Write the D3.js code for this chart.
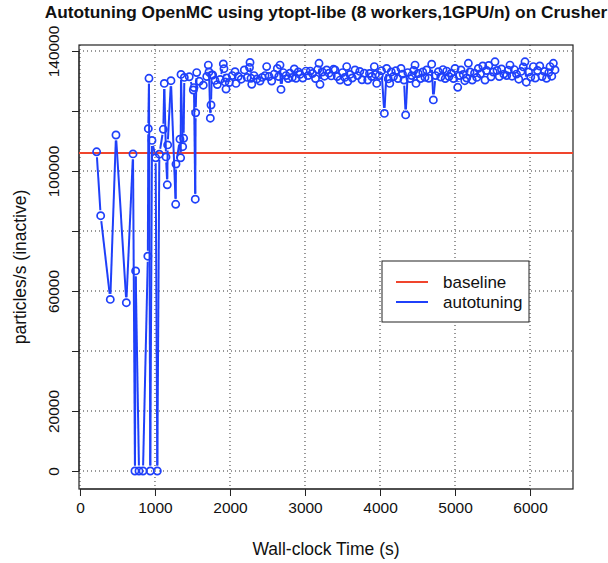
<!DOCTYPE html>
<html>
<head>
<meta charset="utf-8">
<script src="https://cdn.jsdelivr.net/npm/d3@7"></script>
<style>
  body { margin: 0; background: #fff; }
  text { font-family: "Liberation Sans", Arial, Helvetica, sans-serif; }
</style>
</head>
<body>
<div id="chart"></div>
<script>
const width = 608;
const height = 563;

// wall-clock time (s) of each evaluation
const times = [
  222, 276, 404, 480, 618, 707, 733, 742, 787, 840,
  905, 911, 920, 937, 960, 1009, 1031, 1058, 1111, 1124,
  1147, 1164, 1169, 1213, 1276, 1280, 1333, 1342, 1347, 1369,
  1382, 1391, 1457, 1511, 1520, 1537, 1542, 1556, 1591, 1644,
  1690, 1711, 1720, 1738, 1747, 1756, 1769, 1800, 1831, 1870,
  1911, 1920, 1933, 1947, 1956, 1990, 2030, 2067, 2080, 2110,
  2150, 2191, 2230, 2260, 2267, 2280, 2290, 2320, 2360, 2400,
  2430, 2467, 2489, 2520, 2556, 2590, 2631, 2650, 2667, 2680,
  2710, 2747, 2775, 2800, 2830, 2857, 2880, 2910, 2933, 2970,
  3013, 3040, 3070, 3100, 3140, 3170, 3187, 3200, 3230, 3260,
  3289, 3320, 3350, 3380, 3400, 3430, 3467, 3500, 3530, 3556,
  3570, 3600, 3630, 3667, 3700, 3730, 3760, 3790, 3836, 3860,
  3890, 3924, 3940, 3956, 3990, 4020, 4058, 4089, 4110, 4130,
  4150, 4180, 4210, 4240, 4280, 4300, 4320, 4342, 4370, 4400,
  4422, 4450, 4467, 4480, 4510, 4540, 4570, 4600, 4622, 4650,
  4689, 4711, 4740, 4778, 4810, 4840, 4870, 4889, 4920, 4950,
  4980, 5000, 5036, 5060, 5080, 5110, 5130, 5156, 5178, 5200,
  5230, 5260, 5290, 5311, 5340, 5370, 5400, 5420, 5450, 5480,
  5510, 5533, 5560, 5590, 5620, 5650, 5689, 5710, 5733, 5760,
  5790, 5820, 5850, 5880, 5910, 5933, 5950, 5980, 6010, 6044,
  6070, 6100, 6130, 6160, 6190, 6220, 6250, 6267, 6290, 6311,
  6333
];

// particles/s (inactive) for each evaluation
const values = [
  106400, 85100, 57200, 112000, 56100, 105700, 0, 66700, 0, 0,
  71600, 114100, 130900, 0, 110200, 104400, 0, 105600, 113900, 129200,
  104700, 95400, 108700, 130100, 88900, 102300, 110600, 104400, 132200, 108100,
  110900, 131200, 131400, 127000, 127800, 90600, 119400, 132800, 129900, 128600,
  131500, 135300, 133000, 117600, 122000, 132000, 132000, 130200, 128800, 130500,
  135700, 134100, 129700, 127300, 131000, 129500, 131800, 133100, 129200, 131500,
  130600, 133700, 131200, 134500, 136200, 130900, 128900, 131800, 130700, 130000,
  131200, 131800, 134800, 131500, 130000, 132300, 134200, 131500, 135300, 127200,
  132800, 131800, 130800, 132600, 131200, 134000, 130900, 133000, 132200, 131000,
  133300, 131800, 133300, 132500, 130800, 133800, 135900, 128900, 133000, 131600,
  133700, 132600, 131700, 133900, 133700, 131500, 130300, 132800, 131200, 134800,
  129800, 132200, 131000, 133700, 131800, 133200, 130400, 132600, 130300, 132500,
  131500, 134800, 132200, 129200, 131800, 133400, 119200, 134200, 130700, 129200,
  133000, 131500, 133400, 130800, 134200, 132300, 130300, 118700, 132800, 130800,
  131800, 133500, 135300, 129200, 132500, 130800, 133000, 131200, 133700, 130900,
  135600, 123700, 131800, 133100, 131300, 133800, 130800, 133300, 131500, 132600,
  130800, 134200, 127900, 131800, 133700, 132200, 130100, 131000, 135900, 133000,
  130300, 132600, 131200, 134200, 132400, 135000, 130300, 133500, 135200, 131400,
  133000, 136400, 133500, 131500, 134000, 132300, 131800, 133600, 135300, 131600,
  133800, 132300, 130600, 133200, 134700, 136400, 129600, 133000, 131300, 134800,
  131000, 133500, 135000, 131500, 133200, 130900, 132800, 134800, 131600, 135900,
  133700
];

const baselineValue = 106000;

const xTicks = [0, 1000, 2000, 3000, 4000, 5000, 6000];
const yTicks = [0, 20000, 40000, 60000, 80000, 100000, 120000, 140000];
const yLabelled = [0, 20000, 60000, 100000, 140000];

const legendNames = ["baseline", "autotuning"];

const red = "#f0452d";
const blue = "#1f40fa";

const plot = { left: 79, right: 573, top: 45, bottom: 489 };

const svg = d3.select("#chart").append("svg")
    .attr("width", width)
    .attr("height", height);

const xScale = d3.scaleLinear()
    .domain([-13, 6573])
    .range([plot.left, plot.right]);

const yScale = d3.scaleLinear()
    .domain([-6000, 142000])
    .range([plot.bottom, plot.top]);

// grid
svg.append("g")
    .selectAll("line.vgrid")
    .data(xTicks)
    .join("line")
    .attr("class", "vgrid")
    .attr("x1", d => xScale(d))
    .attr("x2", d => xScale(d))
    .attr("y1", plot.top)
    .attr("y2", plot.bottom)
    .attr("stroke", "#333")
    .attr("stroke-width", 1)
    .attr("stroke-dasharray", "1,3");

svg.append("g")
    .selectAll("line.hgrid")
    .data(yTicks)
    .join("line")
    .attr("class", "hgrid")
    .attr("x1", plot.left)
    .attr("x2", plot.right)
    .attr("y1", d => yScale(d))
    .attr("y2", d => yScale(d))
    .attr("stroke", "#333")
    .attr("stroke-width", 1)
    .attr("stroke-dasharray", "1,3");

// axes
const xAxis = d3.axisBottom(xScale)
    .tickValues(xTicks)
    .tickSize(7)
    .tickPadding(6)
    .tickFormat(d => d);

const yAxis = d3.axisLeft(yScale)
    .tickValues(yTicks)
    .tickSize(7)
    .tickFormat(d => yLabelled.includes(d) ? d : "");

const gx = svg.append("g")
    .attr("transform", `translate(0,${plot.bottom})`)
    .call(xAxis);
gx.select(".domain")
    .attr("d", `M${xScale(0)},0H${xScale(6000)}`)
    .attr("stroke", "#222");
gx.selectAll(".tick line").attr("stroke", "#222");
gx.selectAll(".tick text")
    .attr("font-size", 15.5)
    .attr("fill", "#111")
    .attr("font-family", "Liberation Sans, Arial, sans-serif");

const gy = svg.append("g")
    .attr("transform", `translate(${plot.left},0)`)
    .call(yAxis);
gy.select(".domain")
    .attr("d", `M0,${yScale(0)}V${yScale(140000)}`)
    .attr("stroke", "#222");
gy.selectAll(".tick line").attr("stroke", "#222");
gy.selectAll(".tick text")
    .attr("font-size", 15.5)
    .attr("fill", "#111")
    .attr("font-family", "Liberation Sans, Arial, sans-serif")
    .attr("text-anchor", "middle")
    .attr("x", 0)
    .attr("dy", 0)
    .attr("transform", "translate(-20,0) rotate(-90)");

// plot box
svg.append("rect")
    .attr("x", plot.left)
    .attr("y", plot.top)
    .attr("width", plot.right - plot.left)
    .attr("height", plot.bottom - plot.top)
    .attr("fill", "none")
    .attr("stroke", "#222")
    .attr("stroke-width", 1.2);

// baseline
svg.append("line")
    .attr("x1", plot.left)
    .attr("x2", plot.right)
    .attr("y1", yScale(baselineValue))
    .attr("y2", yScale(baselineValue))
    .attr("stroke", red)
    .attr("stroke-width", 2);

// autotuning: points joined by lines with gaps (R type = "b")
const pts = times.map((t, i) => ({ x: xScale(t), y: yScale(values[i]) }));
const gap = 5.5;
const segs = [];
for (let i = 1; i < pts.length; i++) {
    const a = pts[i - 1], b = pts[i];
    const dx = b.x - a.x, dy = b.y - a.y;
    const len = Math.hypot(dx, dy);
    if (len <= 2 * gap) continue;
    const ux = dx / len, uy = dy / len;
    segs.push({ x1: a.x + ux * gap, y1: a.y + uy * gap, x2: b.x - ux * gap, y2: b.y - uy * gap });
}

svg.append("g")
    .selectAll("line")
    .data(segs)
    .join("line")
    .attr("x1", d => d.x1)
    .attr("y1", d => d.y1)
    .attr("x2", d => d.x2)
    .attr("y2", d => d.y2)
    .attr("stroke", blue)
    .attr("stroke-width", 2);

svg.append("g")
    .selectAll("circle")
    .data(pts)
    .join("circle")
    .attr("cx", d => d.x)
    .attr("cy", d => d.y)
    .attr("r", 3.6)
    .attr("fill", "none")
    .attr("stroke", blue)
    .attr("stroke-width", 1.7);

// legend
const legend = svg.append("g").attr("transform", "translate(382,261)");
legend.append("rect")
    .attr("width", 147)
    .attr("height", 61)
    .attr("fill", "#fff")
    .attr("stroke", "#222")
    .attr("stroke-width", 1);
legend.selectAll("line")
    .data(legendNames)
    .join("line")
    .attr("x1", 14)
    .attr("x2", 46)
    .attr("y1", (d, i) => 21 + i * 20)
    .attr("y2", (d, i) => 21 + i * 20)
    .attr("stroke", (d, i) => i === 0 ? red : blue)
    .attr("stroke-width", 2);
legend.selectAll("text")
    .data(legendNames)
    .join("text")
    .attr("x", 61)
    .attr("y", (d, i) => 27 + i * 20)
    .attr("font-size", 17)
    .attr("fill", "#111")
    .text(d => d);

// titles
svg.append("text")
    .attr("x", (plot.left + plot.right) / 2)
    .attr("y", 18)
    .attr("text-anchor", "middle")
    .attr("font-size", 17.3)
    .attr("font-weight", "bold")
    .attr("fill", "#111")
    .text("Autotuning OpenMC using ytopt-libe (8 workers,1GPU/n) on Crusher");

svg.append("text")
    .attr("x", (plot.left + plot.right) / 2)
    .attr("y", 555)
    .attr("text-anchor", "middle")
    .attr("font-size", 17.5)
    .attr("fill", "#111")
    .text("Wall-clock Time (s)");

svg.append("text")
    .attr("transform", `translate(26,${(plot.top + plot.bottom) / 2}) rotate(-90)`)
    .attr("text-anchor", "middle")
    .attr("font-size", 17.5)
    .attr("fill", "#111")
    .text("particles/s (inactive)");
</script>
</body>
</html>
